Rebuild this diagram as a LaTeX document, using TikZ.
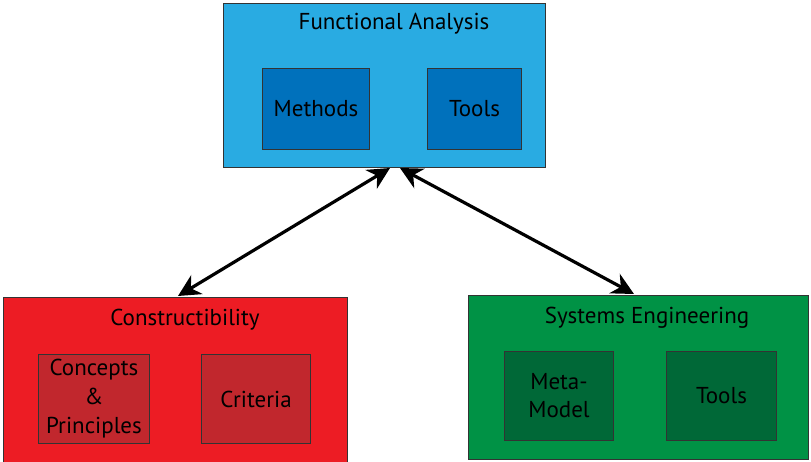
\documentclass[tikz,border=0pt]{standalone}
\usepackage{fontspec}
\setmainfont{PT Sans}
\usetikzlibrary{arrows.meta}
\definecolor{blueL}{HTML}{29ABE2}
\definecolor{blueD}{HTML}{0071BC}
\definecolor{redL}{HTML}{ED1C24}
\definecolor{redD}{HTML}{C1272D}
\definecolor{greenL}{HTML}{009245}
\definecolor{greenD}{HTML}{006837}
\definecolor{edge}{HTML}{333333}
\tikzset{
  outerbox/.style={draw=edge, line width=1pt, anchor=north west, inner sep=0pt},
  innerbox/.style={draw=edge, line width=1pt, anchor=north west, inner sep=0pt},
  titletext/.style={font=\fontsize{23}{28}\selectfont, text=black, inner sep=0pt},
  multitext/.style={font=\fontsize{23}{29}\selectfont, text=black, align=center, inner sep=0pt},
  link/.style={line width=3.2pt, {Stealth[length=22pt,width=22pt,inset=7pt]}-{Stealth[length=22pt,width=22pt,inset=7pt]}}
}
\begin{document}
\begin{tikzpicture}[x=1pt,y=-1pt]
\useasboundingbox (0,0) rectangle (811,461);
% Functional Analysis
\node[outerbox, fill=blueL, minimum width=322pt, minimum height=164pt] (fa) at (223,3) {};
\node[titletext] (fat) at (394,24) {Functional Analysis};
\node[innerbox, fill=blueD, minimum width=107pt, minimum height=81pt] (fam) at (262,68) {};
\node[titletext] at (fam.center) {Methods};
\node[innerbox, fill=blueD, minimum width=94pt, minimum height=81pt] (fato) at (427,68) {};
\node[titletext] at (fato.center) {Tools};
% Constructibility
\node[outerbox, fill=redL, minimum width=344pt, minimum height=170pt] (cb) at (3,297) {};
\node[titletext] (cbt) at (185,320) {Constructibility};
\node[innerbox, fill=redD, minimum width=111pt, minimum height=89pt] (cbc) at (38,354) {};
\node[multitext] at (cbc.center) {Concepts\\\&\\Principles};
\node[innerbox, fill=redD, minimum width=109pt, minimum height=89pt] (cbr) at (201,354) {};
\node[titletext] at (cbr.center) {Criteria};
% Systems Engineering
\node[outerbox, fill=greenL, minimum width=340pt, minimum height=164pt] (se) at (468,295) {};
\node[titletext] (set) at (647,318) {Systems Engineering};
\node[innerbox, fill=greenD, minimum width=109pt, minimum height=89pt] (sem) at (504,351) {};
\node[multitext, font=\fontsize{23}{28}\selectfont] at (sem.center) {Meta-\\Model};
\node[innerbox, fill=greenD, minimum width=110pt, minimum height=89pt] (seto) at (666,351) {};
\node[titletext] at (seto.center) {Tools};
% connectors
\coordinate (faL) at (390,168);
\coordinate (faR) at (400,168);
\coordinate (cbT) at (178,296);
\coordinate (seT) at (634,294);
\draw[link] (cbT) -- (faL);
\draw[link] (seT) -- (faR);
\end{tikzpicture}
\end{document}
